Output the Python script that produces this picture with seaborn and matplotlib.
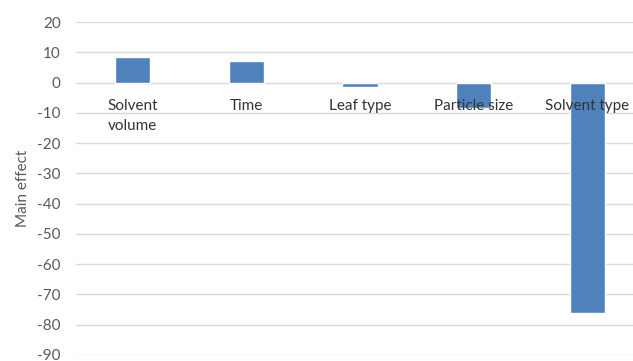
import matplotlib
matplotlib.use("Agg")
import matplotlib.pyplot as plt
import seaborn as sns
import pandas as pd

# data
factors = ["Solvent\nvolume", "Time", "Leaf type", "Particle size", "Solvent type"]
main_effect = [8.6, 7.0, -1.4, -8.4, -76.2]
y_ticks = list(range(-90, 30, 10))

df = pd.DataFrame({"factor": factors, "effect": main_effect})

sns.set_style("white")
plt.rcParams["font.family"] = ["Lato", "DejaVu Sans"]
plt.rcParams["axes.unicode_minus"] = False

fig = plt.figure(figsize=(6.33, 3.61), dpi=100)
ax = fig.add_axes([76 / 633, 6 / 361, 568 / 633, 333 / 361])

sns.barplot(data=df, x="factor", y="effect", color="#4F81BD", width=0.31,
            saturation=1, ax=ax, zorder=3)

ax.set_ylim(-90, 20)
ax.set_xlim(-0.5, 4.5)
ax.set_yticks(y_ticks)
ax.yaxis.grid(True, color="#D9D9D9", linewidth=1, zorder=0)
ax.set_axisbelow(True)

for s in ["top", "right", "left"]:
    ax.spines[s].set_visible(False)
ax.spines["bottom"].set_position(("data", 0))
ax.spines["bottom"].set_color("#D9D9D9")

ax.tick_params(axis="y", length=0, pad=11, labelsize=11, labelcolor="#595959")
ax.tick_params(axis="x", length=0, labelbottom=False)

# category labels sit just under the zero line, drawn over the bars
for i, name in enumerate(factors):
    ax.annotate(name, xy=(i, 0), xytext=(0, -12), textcoords="offset points",
                ha="center", va="top", fontsize=11, color="#333333",
                linespacing=1.5, zorder=5)

ax.set_xlabel("")
ax.set_ylabel("Main effect", fontsize=11, color="#595959", labelpad=5)

fig.savefig("out.png", dpi=100)
